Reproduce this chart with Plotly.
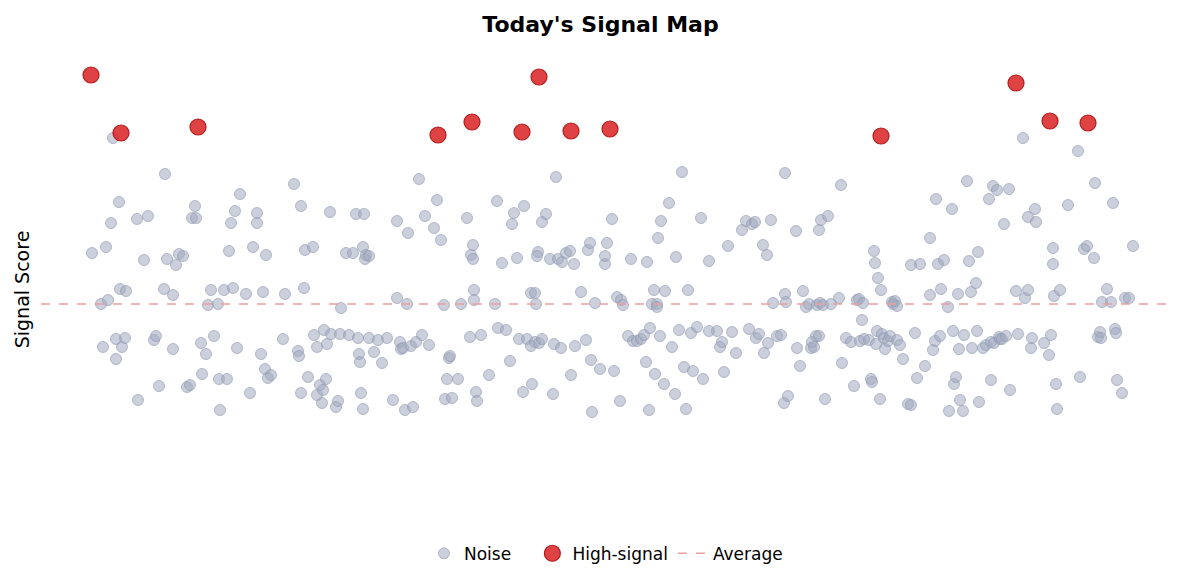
import plotly.graph_objects as go

noise_x = [9.1,10.0,10.5,10.7,11.0,11.2,11.5,11.8,11.9,12.1,12.5,12.4,10.2,11.5,13.6,13.7,14.3,14.7,15.3,15.5,
15.8,16.3,16.4,16.6,17.2,17.2,17.5,17.8,18.2,18.6,18.9,19.1,19.4,19.5,20.0,20.1,20.5,20.7,21.0,
21.3,21.7,21.8,21.9,22.3,22.6,22.8,23.0,23.2,23.4,23.6,23.9,24.5,24.9,25.2,25.6,25.6,26.0,26.2,26.5,26.4,26.7,27.0,
28.2,28.4,29.3,29.7,29.8,30.0,30.0,30.3,30.4,30.7,31.2,31.3,31.6,31.6,31.9,32.1,32.2,32.3,32.5,32.6,32.9,33.0,33.5,33.7,33.9,
34.0,34.5,34.8,35.2,35.5,35.7,35.8,35.9,36.0,36.2,36.2,36.3,36.4,36.5,36.8,36.8,37.3,37.7,38.1,38.6,39.2,39.6,39.6,39.9,40.0,40.2,40.4,40.6,40.7,41.0,41.2,41.5,
41.8,42.1,42.4,42.8,43.3,43.6,44.0,44.3,44.4,44.6,44.8,44.9,45.1,45.7,46.0,46.6,46.9,47.0,47.2,47.2,47.3,47.3,47.5,47.6,48.0,
48.8,49.4,49.6,49.7,50.1,50.5,50.9,51.1,51.3,51.6,51.8,52.2,52.3,52.6,53.0,53.1,53.0,53.4,53.5,53.4,53.7,53.8,53.6,54.1,54.1,54.5,54.9,55.2,55.3,55.5,55.7,56.0,56.1,56.5,56.9,57.0,57.3,57.4,58.0,
58.5,58.7,58.9,59.0,59.1,59.4,59.9,60.4,60.4,60.6,61.1,61.3,61.6,61.9,62.0,62.2,62.7,63.0,63.2,63.6,64.0,64.3,64.5,64.6,64.8,64.9,65.1,65.3,65.4,65.6,65.6,65.7,65.9,66.0,66.3,66.4,
66.8,67.1,67.4,67.5,67.8,68.1,68.3,68.5,68.7,69.0,69.2,69.6,70.0,70.2,70.8,70.8,71.6,71.9,72.1,72.3,72.7,73.1,73.5,74.1,74.5,74.8,75.1,75.4,75.5,75.8,76.2,76.3,76.6,76.7,77.0,77.2,
77.6,78.0,78.3,78.4,78.4,78.5,78.7,79.5,79.6,79.9,80.2,80.5,80.8,81.0,81.1,81.3,81.5,81.6,81.8,81.8,81.9,82.0,82.2,82.4,82.7,83.0,83.8,84.0,84.1,84.5,85.0,85.3,85.6,85.8,85.9,86.1,86.2,86.3,
86.8,87.0,87.1,87.3,87.4,87.5,87.6,87.7,87.9,88.0,88.1,88.3,88.4,88.7,88.9,89.1,89.2,89.4,89.6,89.6,89.9,90.2,90.7,91.0,91.0,91.4,91.6,91.9,92.4,92.9,92.9,93.2,93.4,93.5,93.7,93.9,94.0,94.3,
94.7,94.8,95.1,95.2,95.3,95.5,95.7,95.8,95.9,96.2,96.3,96.6,96.8,97.0,97.1,97.5,97.6,97.7,97.8,98.2,98.5,98.8,99.0,99.0,99.2,99.3,99.6,99.8,99.9,100.1,100.3,100.5,100.8,100.9,101.5,101.7,102.2,
102.4,102.7,102.7,103.0,103.1,103.4,103.5,104.3,104.8,105.0,105.2,105.2,105.3,105.5,105.6,105.9,106.7,107.7,107.9,108.3,108.6,109.4,109.3,109.7,109.9,110.0,110.1,110.6,111.0,111.2,111.4,111.5,111.6,112.1,112.4,112.8,113.2]

noise_y = [55.1,50.0,55.7,50.4,58.1,66.6,46.5,60.2,51.5,45.7,51.3,46.6,45.7,44.5,58.5,40.4,54.4,58.8,46.4,46.8,
41.8,51.5,63.0,54.5,45.5,50.9,53.9,55.0,54.8,41.7,41.9,58.6,59.8,58.6,46.1,43.0,45.0,49.9,51.4,
46.8,50.0,42.5,39.4,51.4,42.5,55.3,58.1,51.6,59.3,45.6,61.0,51.0,41.1,55.7,58.1,59.1,45.0,51.2,54.9,43.5,42.6,42.9,
46.5,51.0,62.0,45.3,44.8,41.1,59.8,51.6,55.4,42.7,55.7,46.9,45.7,40.9,41.9,40.1,41.4,47.4,42.5,46.0,59.2,47.0,39.7,40.3,47.0,
49.6,55.1,46.9,55.1,59.0,46.6,45.0,44.2,41.1,39.5,55.7,59.0,54.5,54.9,54.8,46.6,45.2,46.4,44.1,46.6,40.4,50.6,58.3,46.2,45.5,45.6,39.4,50.0,57.1,45.8,39.7,46.2,
62.5,46.9,58.8,45.9,57.6,60.4,56.4,49.9,40.5,42.5,44.6,44.8,40.6,42.5,50.0,58.6,46.7,54.9,55.9,54.5,51.4,50.4,41.2,40.3,46.9,
42.9,50.0,60.3,47.6,54.1,47.4,44.3,58.0,59.1,54.6,46.5,41.2,59.8,46.5,51.1,42.0,45.8,51.1,50.0,46.2,55.2,46.1,54.8,58.2,46.5,59.0,54.5,41.0,46.0,62.7,54.5,45.6,54.2,55.1,55.3,42.9,54.0,45.8,51.2,
46.4,55.4,56.1,44.4,39.2,50.1,43.5,54.0,54.8,56.1,58.5,43.3,50.7,40.3,50.4,49.9,46.8,54.5,46.3,46.3,46.5,46.9,44.2,54.2,39.4,47.6,50.0,51.4,43.0,50.0,49.7,56.6,46.8,58.3,42.0,51.3,
60.1,45.7,41.0,54.7,47.4,63.2,43.7,39.5,51.4,47.1,43.3,47.7,58.6,42.5,54.3,47.3,47.3,45.7,46.2,43.2,55.8,47.2,45.1,57.4,58.3,47.5,58.0,58.2,46.6,47.0,55.9,45.1,54.9,46.1,58.4,50.1,
46.8,46.9,40.1,51.0,63.1,50.2,40.8,57.3,45.6,43.8,51.3,49.7,50.0,45.6,46.2,45.7,46.8,49.9,46.8,57.4,50.1,58.4,49.9,40.5,58.8,50.0,50.6,61.9,44.1,46.6,46.2,41.8,50.4,50.5,46.3,48.4,50.1,46.5,
46.4,42.5,42.2,55.3,54.1,46.0,47.3,52.6,40.5,51.4,47.0,46.6,45.5,46.3,46.8,50.2,50.0,50.3,49.8,46.4,45.9,44.5,40.0,39.9,53.9,47.1,42.6,54.0,43.8,56.6,50.9,45.4,46.3,60.5,54.0,46.8,51.5,54.4,
49.7,39.3,59.5,47.3,42.0,42.7,51.0,45.5,40.4,39.3,46.9,62.3,54.3,51.2,45.6,52.1,47.3,55.2,40.2,45.6,45.9,60.5,42.4,46.2,61.8,46.1,61.4,46.7,46.5,46.5,58.0,46.8,61.5,41.4,51.3,47.0,66.6,
50.6,58.7,51.4,45.6,46.6,59.5,58.2,46.1,44.9,46.9,55.6,54.0,50.8,42.0,39.5,51.4,59.9,65.3,42.7,55.5,55.8,62.1,54.6,46.7,47.2,46.6,50.2,51.5,50.2,60.1,47.5,47.1,42.4,41.1,50.6,50.6,55.8]

signal_x = [9.0,12.0,19.7,43.7,47.1,52.1,53.8,57.0,60.9,88.0,101.5,104.9,108.7]
signal_y = [72.9,67.1,67.7,66.9,68.2,67.2,72.7,67.3,67.5,66.8,72.1,68.3,68.1]

average = 50.0

n = min(len(noise_x), len(noise_y))
fig = go.Figure()
fig.add_trace(go.Scatter(x=noise_x[:n], y=noise_y[:n], mode="markers", name="Noise   ",
    marker=dict(size=11, color="rgba(160,170,192,0.55)", line=dict(color="rgba(140,150,175,0.6)", width=1))))
fig.add_trace(go.Scatter(x=signal_x, y=signal_y, mode="markers", name="High-signal",
    marker=dict(size=16, color="rgba(218,40,40,0.88)", line=dict(color="#b51d1d", width=1.2))))
fig.add_trace(go.Scatter(x=[None], y=[None], mode="lines", name="Average",
    line=dict(color="#eaa0a0", width=1.3, dash="dash")))
fig.add_hline(y=average, line=dict(color="#eaa0a0", width=1.3, dash="dash"))

fig.update_layout(
    width=1185, height=584, plot_bgcolor="white", paper_bgcolor="white",
    margin=dict(l=33, r=22, t=47, b=68),
    title=dict(text="<b>Today's Signal Map</b>", x=0.5, xanchor="center", y=0.972, yanchor="middle",
               font=dict(family="DejaVu Sans", size=22, color="black")),
    font=dict(family="DejaVu Sans", size=16, color="black"),
    xaxis=dict(range=[4, 117], visible=False),
    yaxis=dict(range=[28.0, 74.9], showticklabels=False, showgrid=False, zeroline=False,
               title=dict(text="Signal Score", standoff=5)),
    legend=dict(orientation="h", x=0.5, xanchor="center", y=-0.025, yanchor="top",
                font=dict(size=17), itemsizing="trace"),
)
fig.write_html("out.html")
